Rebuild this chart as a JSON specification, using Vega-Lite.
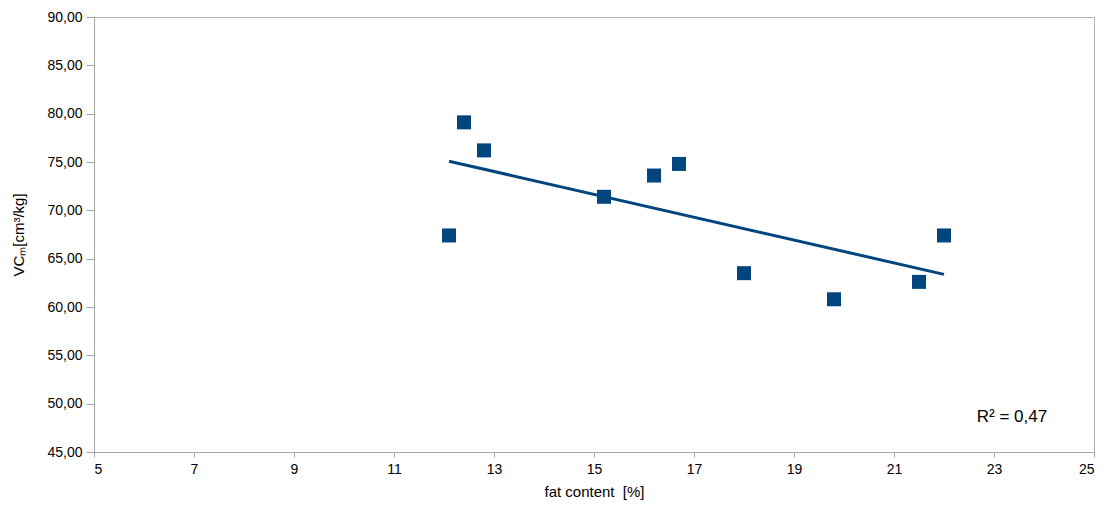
{
  "$schema": "https://vega.github.io/schema/vega-lite/v6.json",
  "width": 1000,
  "height": 435,
  "autosize": {"type": "none"},
  "padding": {"left": 94, "top": 17, "right": 15, "bottom": 56},
  "background": "white",
  "data": {
    "values": [
      {"fat": 12.1, "vcm": 67.4},
      {"fat": 12.4, "vcm": 79.1},
      {"fat": 12.8, "vcm": 76.2},
      {"fat": 15.2, "vcm": 71.4},
      {"fat": 16.2, "vcm": 73.6},
      {"fat": 16.7, "vcm": 74.8},
      {"fat": 18.0, "vcm": 63.5},
      {"fat": 19.8, "vcm": 60.8},
      {"fat": 21.5, "vcm": 62.6},
      {"fat": 22.0, "vcm": 67.4}
    ]
  },
  "encoding": {
    "x": {
      "field": "fat",
      "type": "quantitative",
      "scale": {"domain": [5, 25], "nice": false},
      "title": "fat content\u00a0 [%]",
      "axis": {
        "values": [5, 7, 9, 11, 13, 15, 17, 19, 21, 23, 25],
        "tickSize": 5,
        "labelPadding": 5,
        "titlePadding": 8
      }
    },
    "y": {
      "field": "vcm",
      "type": "quantitative",
      "scale": {"domain": [45, 90], "nice": false, "zero": false},
      "title": "VCₘ[cm³/kg]",
      "axis": {
        "values": [45, 50, 55, 60, 65, 70, 75, 80, 85, 90],
        "labelExpr": "replace(format(datum.value, '.2f'), '.', ',')",
        "tickSize": 8,
        "labelPadding": 4,
        "titlePadding": 20
      }
    }
  },
  "layer": [
    {
      "mark": {"type": "square", "size": 196, "color": "#00457e", "opacity": 1}
    },
    {
      "transform": [{"regression": "vcm", "on": "fat"}],
      "mark": {"type": "line", "color": "#00457e", "strokeWidth": 3}
    },
    {
      "transform": [{"filter": {"field": "fat", "equal": 12.1}}],
      "mark": {"type": "text", "fontSize": 17, "font": "Liberation Sans", "color": "#000", "baseline": "middle", "align": "center"},
      "encoding": {
        "x": {"datum": 23.36},
        "y": {"datum": 48.6},
        "text": {"value": "R² = 0,47"}
      }
    }
  ],
  "config": {
    "view": {"stroke": "#b3b3b3"},
    "axis": {
      "grid": false,
      "domainColor": "#a6a6a6",
      "tickColor": "#a6a6a6",
      "labelColor": "#000",
      "titleColor": "#000",
      "labelFont": "Liberation Sans",
      "titleFont": "Liberation Sans",
      "labelFontSize": 14,
      "titleFontSize": 15,
      "titleFontWeight": "normal"
    }
  }
}
